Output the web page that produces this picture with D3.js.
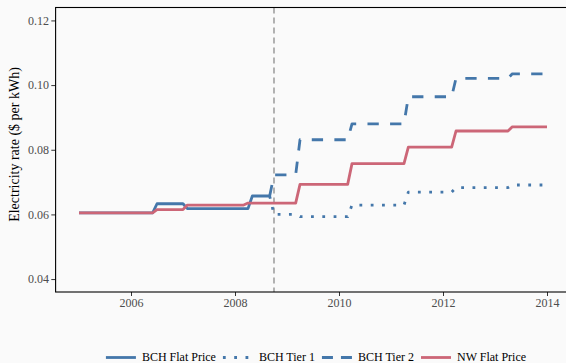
<!DOCTYPE html>
<html>
<head>
<meta charset="utf-8">
<script src="https://cdn.jsdelivr.net/npm/d3@7/dist/d3.min.js"></script>
<style>
    body { margin: 0; background: #fafafa; }
    svg { display: block; }
    .tick line { stroke: #333; }
    .line { fill: none; stroke-width: 2.8; stroke-linejoin: round; stroke-linecap: butt; }
</style>
</head>
<body>
<div id="chart"></div>
<script>
// monthly rates ($ per kWh), only the corners of each step are listed
var bchFlatDates  = ["2005-01", "2006-06", "2006-07", "2007-01", "2007-02", "2008-04", "2008-05", "2008-09"];
var bchFlatValues = [0.0605, 0.0605, 0.0633, 0.0633, 0.0618, 0.0618, 0.0657, 0.0657];

var bchTier1Dates  = ["2008-09", "2008-10", "2009-03", "2009-04", "2010-03", "2010-04", "2011-04", "2011-05", "2012-03", "2012-04", "2013-04", "2013-05", "2014-01"];
var bchTier1Values = [0.0657, 0.0600, 0.0600, 0.0593, 0.0593, 0.0629, 0.0629, 0.0669, 0.0669, 0.0683, 0.0683, 0.0691, 0.0691];

var bchTier2Dates  = ["2008-09", "2008-10", "2009-03", "2009-04", "2010-03", "2010-04", "2011-04", "2011-05", "2012-03", "2012-04", "2013-04", "2013-05", "2014-01"];
var bchTier2Values = [0.0657, 0.0722, 0.0722, 0.0831, 0.0831, 0.0880, 0.0880, 0.0964, 0.0964, 0.1021, 0.1021, 0.1035, 0.1035];

var nwFlatDates  = ["2005-01", "2006-06", "2006-07", "2007-01", "2007-02", "2008-03", "2008-04", "2009-03", "2009-04", "2010-03", "2010-04", "2011-04", "2011-05", "2012-03", "2012-04", "2013-04", "2013-05", "2014-01"];
var nwFlatValues = [0.0605, 0.0605, 0.0615, 0.0615, 0.0629, 0.0629, 0.0635, 0.0635, 0.0693, 0.0693, 0.0757, 0.0757, 0.0808, 0.0808, 0.0858, 0.0858, 0.0871, 0.0871];

var seriesNames = ["BCH Flat Price", "BCH Tier 1", "BCH Tier 2", "NW Flat Price"];
var seriesColors = ["#4477aa", "#4477aa", "#4477aa", "#cc6677"];
var seriesDash = [null, "2.8,8.5", "11.3,11.3", null];

var yTicks = [0.04, 0.06, 0.08, 0.10, 0.12];
var xTicks = [2006, 2008, 2010, 2012, 2014];
var tierStart = "2008-10";

var serif = "'Liberation Serif', 'Times New Roman', serif";

function toYear(s) {
    var p = s.split("-");
    return +p[0] + (+p[1] - 1) / 12;
}

function zip(dates, values) {
    return dates.map(function(d, i) { return {Year: toYear(d), value: values[i]}; });
}

var data = [
    zip(bchFlatDates, bchFlatValues),
    zip(bchTier1Dates, bchTier1Values),
    zip(bchTier2Dates, bchTier2Values),
    zip(nwFlatDates, nwFlatValues)
];

var margin = {top: 7.5, left: 55.6};
var width = 514.8;
var height = 284.5;

var svg = d3.select("#chart").append("svg")
    .attr("width", 566)
    .attr("height", 363);

var g = svg.append("g")
    .attr("transform", "translate(" + margin.left + "," + margin.top + ")");

var xScale = d3.scaleLinear()
    .domain([2004.55, 2014.45])
    .range([0, width]);

var yScale = d3.scaleLinear()
    .domain([0.036, 0.124])
    .range([height, 0]);

var xAxis = d3.axisBottom()
    .scale(xScale)
    .tickValues(xTicks)
    .tickFormat(d3.format("d"))
    .tickSize(4)
    .tickPadding(2.5);

var yAxis = d3.axisLeft()
    .scale(yScale)
    .tickValues(yTicks)
    .tickFormat(d3.format(".2f"))
    .tickSize(4.3)
    .tickPadding(2.2);

function styleAxis(a) {
    a.select(".domain").remove();
    a.selectAll(".tick text")
        .style("font-family", serif)
        .style("font-size", "12px")
        .attr("fill", "#4d4d4d");
}

g.append("g")
    .attr("class", "axis x-axis")
    .attr("transform", "translate(0," + height + ")")
    .call(xAxis)
    .call(styleAxis);

g.append("g")
    .attr("class", "axis y-axis")
    .call(yAxis)
    .call(styleAxis);

// dashed marker where the tiered rates start
g.append("line")
    .attr("x1", xScale(toYear(tierStart)))
    .attr("x2", xScale(toYear(tierStart)))
    .attr("y1", 0)
    .attr("y2", height)
    .attr("stroke", "#8c8c8c")
    .attr("stroke-width", 1.3)
    .attr("stroke-dasharray", "6,4");

var line = d3.line()
    .x(function(d) { return xScale(d.Year); })
    .y(function(d) { return yScale(d.value); });

g.selectAll(".line")
    .data(data)
    .enter()
    .append("path")
    .attr("class", "line")
    .attr("d", line)
    .attr("stroke", function(d, i) { return seriesColors[i]; })
    .attr("stroke-dasharray", function(d, i) { return seriesDash[i]; });

// panel border
g.append("rect")
    .attr("width", width)
    .attr("height", height)
    .attr("fill", "none")
    .attr("stroke", "#000")
    .attr("stroke-width", 1.1);

svg.append("text")
    .attr("transform", "translate(14,144.5) rotate(-90)")
    .attr("text-anchor", "middle")
    .attr("dy", "0.35em")
    .style("font-family", serif)
    .style("font-size", "14px")
    .attr("fill", "#000")
    .text("Electricity rate ($ per kWh)");

// legend
var legend = svg.append("g").attr("class", "legend");
var items = legend.selectAll(".item")
    .data(seriesNames)
    .enter()
    .append("g")
    .attr("class", "item");

items.append("line")
    .attr("x1", 0)
    .attr("x2", 30)
    .attr("y1", 0)
    .attr("y2", 0)
    .attr("stroke", function(d, i) { return seriesColors[i]; })
    .attr("stroke-width", 2.8)
    .attr("stroke-dasharray", function(d, i) { return i == 2 ? "11,8" : seriesDash[i]; });

items.append("text")
    .attr("x", 36)
    .attr("dy", "0.32em")
    .style("font-family", serif)
    .style("font-size", "12px")
    .attr("fill", "#000")
    .text(function(d) { return d; });

var offsets = [];
var pos = 0;
items.each(function(d, i) {
    var w = 36 + this.querySelector("text").getComputedTextLength();
    offsets.push(pos);
    pos += w + 7;
});
var total = pos - 7;
var legendLeft = 316 - total / 2;
items.attr("transform", function(d, i) {
    return "translate(" + (legendLeft + offsets[i]) + ",357.5)";
});
</script>
</body>
</html>
